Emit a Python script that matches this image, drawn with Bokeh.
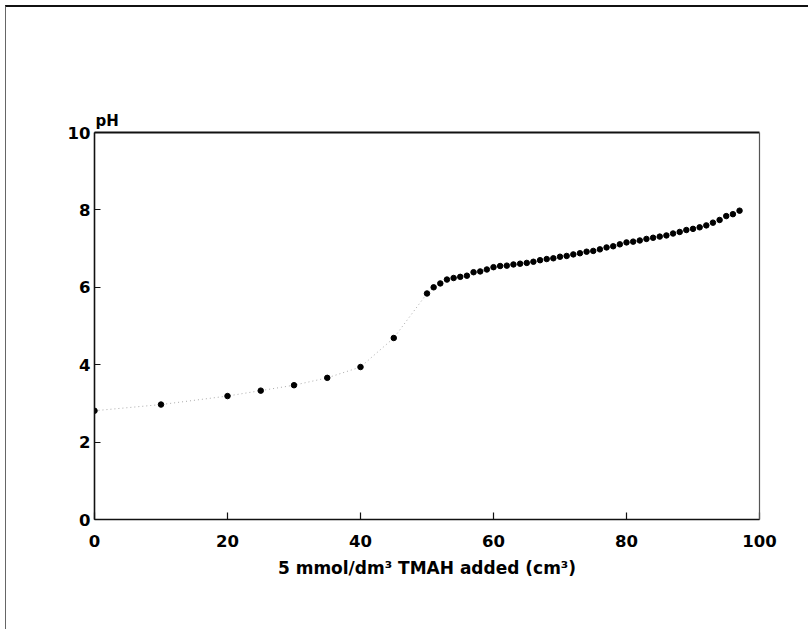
from bokeh.plotting import figure
from bokeh.models import Range1d, FixedTicker, LinearAxis, Title
from bokeh.embed import file_html
from bokeh.resources import INLINE

# Titration data: volume of 5 mmol/dm3 TMAH added (cm3) vs pH
vol = [0, 10, 20, 25, 30, 35, 40, 45,
       50, 51, 52, 53, 54, 55, 56, 57, 58, 59, 60, 61, 62, 63, 64, 65, 66, 67, 68, 69,
       70, 71, 72, 73, 74, 75, 76, 77, 78, 79, 80, 81, 82, 83, 84, 85, 86, 87, 88, 89,
       90, 91, 92, 93, 94, 95, 96, 97]
ph = [2.81, 2.97, 3.19, 3.33, 3.47, 3.66, 3.94, 4.69,
      5.84, 6.00, 6.10, 6.20, 6.24, 6.27, 6.30, 6.39, 6.41, 6.46, 6.52, 6.55, 6.56, 6.59, 6.61, 6.63, 6.66, 6.70, 6.73, 6.75,
      6.79, 6.81, 6.85, 6.88, 6.92, 6.94, 6.98, 7.03, 7.06, 7.11, 7.16, 7.18, 7.21, 7.25, 7.28, 7.31, 7.34, 7.39, 7.43, 7.48,
      7.51, 7.55, 7.60, 7.67, 7.74, 7.84, 7.89, 7.98]

x_ticks = [0, 20, 40, 60, 80, 100]
y_ticks = [0, 2, 4, 6, 8, 10]

p = figure(width=803, height=624, output_backend="svg", toolbar_location=None,
           x_range=Range1d(0, 100), y_range=Range1d(0, 10),
           min_border_left=88, min_border_right=50, min_border_top=125, min_border_bottom=112)
p.styles = {"border-top": "2px solid #111", "border-left": "1px solid #666",
            "margin-top": "5px", "margin-left": "5px"}
p.grid.visible = False
p.outline_line_color = None
p.background_fill_color = "white"
p.border_fill_color = "white"

FONT = "DejaVu Sans"

for ax, ticks in ((p.xaxis[0], x_ticks), (p.yaxis[0], y_ticks)):
    ax.ticker = FixedTicker(ticks=ticks)
    ax.axis_line_color = "#111"
    ax.axis_line_width = 1.6
    ax.major_tick_line_color = "#111"
    ax.major_tick_line_width = 1.2
    ax.major_tick_out = 0
    ax.minor_tick_line_color = None
    ax.major_label_text_font = FONT
    ax.major_label_text_font_style = "bold"
    ax.major_label_text_font_size = "16.5px"
    ax.major_label_text_color = "#000"

p.xaxis.major_tick_in = 7
p.yaxis.major_tick_in = 6
p.xaxis.major_label_standoff = 15
p.yaxis.major_label_standoff = 4
p.xaxis.axis_label = "5 mmol/dm³ TMAH added (cm³)"
p.xaxis.axis_label_text_font = FONT
p.xaxis.axis_label_text_font_style = "bold"
p.xaxis.axis_label_text_font_size = "17px"
p.xaxis.axis_label_text_color = "#000"
p.xaxis.axis_label_standoff = 8

top_ax = LinearAxis(ticker=FixedTicker(ticks=[]), axis_line_color="#111", axis_line_width=2,
                    major_label_text_font_size="0px", major_tick_in=0, major_tick_out=0,
                    minor_tick_line_color=None)
right_ax = LinearAxis(ticker=FixedTicker(ticks=[]), axis_line_color="#555", axis_line_width=1.2,
                      major_label_text_font_size="0px", major_tick_in=0, major_tick_out=0,
                      minor_tick_line_color=None)
p.add_layout(top_ax, "above")
p.add_layout(right_ax, "right")
p.add_layout(Title(text="pH", align="left", text_font=FONT, text_font_style="bold",
                   text_font_size="15px", text_color="#000", standoff=6, offset=1), "above")

p.line(vol, ph, line_color="#aaa", line_width=1, line_dash="1 3")
p.scatter(vol, ph, size=5.5, color="black")

open("out.html", "w").write(file_html(p, INLINE))
